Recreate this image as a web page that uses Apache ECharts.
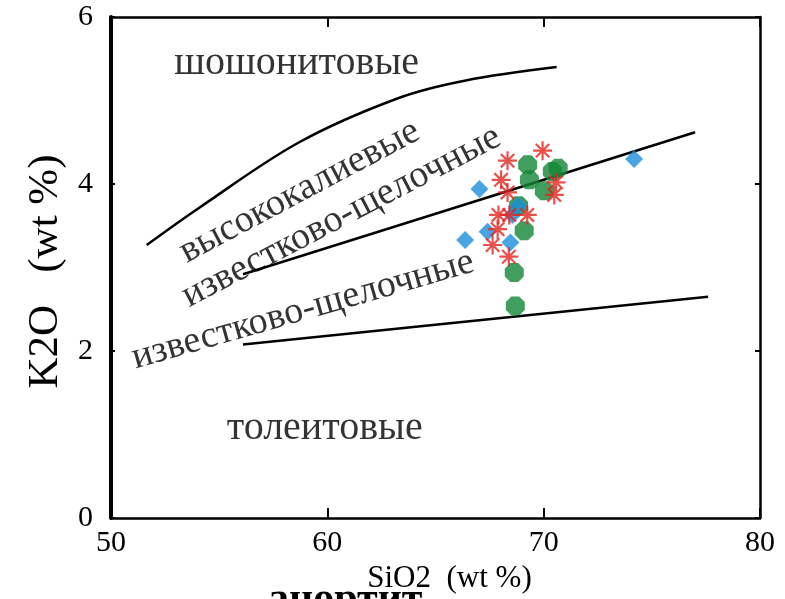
<!DOCTYPE html>
<html>
<head>
<meta charset="utf-8">
<script src="https://cdn.jsdelivr.net/npm/echarts@6/dist/echarts.min.js"></script>
<style>
  html, body { margin: 0; padding: 0; background: #fff; overflow: hidden; }
  #chart { width: 785px; height: 599px; }
</style>
</head>
<body>
<div id="chart"></div>
<script>
// K2O vs SiO2 classification diagram (wt %)

// Sample groups: [SiO2, K2O]
const blueSamples = [
  [67.03, 3.94], [66.37, 3.33], [67.41, 3.43], [68.46, 3.30],
  [68.83, 3.74], [68.55, 3.63], [74.18, 4.30]
];
const greenSamples = [
  [69.26, 4.23], [69.34, 4.05], [70.40, 4.15], [70.67, 4.19],
  [70.03, 3.92], [68.84, 3.74], [69.10, 3.44], [68.64, 2.94], [68.69, 2.54]
];
const redSamples = [
  [68.33, 4.28], [69.95, 4.40], [68.03, 4.05], [68.33, 3.90],
  [70.57, 4.02], [70.49, 3.87], [67.91, 3.63], [68.41, 3.63],
  [69.24, 3.63], [67.87, 3.46], [67.64, 3.27], [68.39, 3.13]
];

// Field boundaries
const shoshoniteBoundary = [
  [51.65, 3.27], [54.1, 3.72], [58.7, 4.50], [63.3, 5.03], [66.4, 5.24], [70.6, 5.40]
];
const highKBoundary = [[56.1, 2.92], [77.0, 4.62]];
const tholeiiteBoundary = [[56.1, 2.08], [77.6, 2.65]];

// Field names with anchor points [SiO2, K2O] and text angle
const fieldNames = ['шошонитовые', 'высококалиевые', 'известково-щелочные', 'известково-щелочные', 'толеитовые'];
const fieldAnchors = [[58.58, 5.44], [58.72, 3.91], [60.65, 3.61], [58.87, 2.49], [59.88, 1.07]];
const fieldAngles = [0, 28, 27.5, 16, 0];
const fieldFontSizes = [40, 38, 38, 38, 40];

// Axis ranges and ticks
const xRange = [50, 80];
const xStep = 10;
const yRange = [0, 6];
const yStep = 2;
const xTitle = 'SiO2  (wt %)';
const yTitle = 'K2O   (wt %)';
const footText = 'анортит';

const FONT = 'Liberation Serif';

const octagon = 'path://M-4.14,-10L4.14,-10L10,-4.14L10,4.14L4.14,10L-4.14,10L-10,4.14L-10,-4.14Z';
const asterisk = 'path://M0,-10L0,10M-10,0L10,0M-7.07,-7.07L7.07,7.07M-7.07,7.07L7.07,-7.07';

const chart = echarts.init(document.getElementById('chart'), null, { renderer: 'canvas' });

const boundaryStyle = { color: '#000', width: 2.5 };

const option = {
  backgroundColor: '#ffffff',
  animation: false,
  grid: { left: 111, right: 25, top: 17, bottom: 69, containLabel: false },
  xAxis: [
    {
      type: 'value', min: xRange[0], max: xRange[1], interval: xStep,
      position: 'bottom',
      name: xTitle, nameLocation: 'middle', nameGap: 17,
      nameTextStyle: { fontFamily: FONT, fontSize: 31, color: '#000', padding: [0, 0, 0, 28] },
      axisLine: { show: true, onZero: false, lineStyle: { color: '#000', width: 2.5 } },
      axisTick: { show: true, inside: true, length: 10, lineStyle: { color: '#000', width: 2 } },
      axisLabel: { fontFamily: FONT, fontSize: 30, color: '#000', margin: 10 },
      splitLine: { show: false }
    },
    {
      type: 'value', min: xRange[0], max: xRange[1], interval: xStep,
      position: 'top',
      axisLine: { show: true, onZero: false, lineStyle: { color: '#000', width: 2.5 } },
      axisTick: { show: true, inside: true, length: 10, lineStyle: { color: '#000', width: 2 } },
      axisLabel: { show: false },
      splitLine: { show: false }
    }
  ],
  yAxis: [
    {
      type: 'value', min: yRange[0], max: yRange[1], interval: yStep,
      position: 'left',
      name: yTitle, nameLocation: 'middle', nameGap: 44, nameRotate: 90,
      nameTextStyle: { fontFamily: FONT, fontSize: 43, color: '#000', padding: [0, 8, 0, 0] },
      axisLine: { show: true, onZero: false, lineStyle: { color: '#000', width: 4 } },
      axisTick: { show: true, inside: true, length: 4, lineStyle: { color: '#000', width: 2 } },
      axisLabel: { fontFamily: FONT, fontSize: 30, color: '#000', margin: 18 },
      splitLine: { show: false }
    },
    {
      type: 'value', min: yRange[0], max: yRange[1], interval: yStep,
      position: 'right',
      axisLine: { show: true, onZero: false, lineStyle: { color: '#000', width: 2.5 } },
      axisTick: { show: true, inside: true, length: 5, lineStyle: { color: '#000', width: 2 } },
      axisLabel: { show: false },
      splitLine: { show: false }
    }
  ],
  series: [
    {
      type: 'line', data: shoshoniteBoundary, smooth: 0.35, symbol: 'none',
      lineStyle: boundaryStyle, z: 2, silent: true
    },
    {
      type: 'line', data: highKBoundary, symbol: 'none',
      lineStyle: boundaryStyle, z: 2, silent: true
    },
    {
      type: 'line', data: tholeiiteBoundary, symbol: 'none',
      lineStyle: boundaryStyle, z: 2, silent: true
    },
    {
      type: 'scatter', symbolSize: 0, z: 3, silent: true,
      data: fieldAnchors.map((p, i) => ({
        value: p,
        label: {
          show: true, position: 'inside', formatter: fieldNames[i], rotate: fieldAngles[i],
          fontFamily: FONT, fontSize: fieldFontSizes[i], color: '#000'
        }
      }))
    },
    {
      type: 'scatter', data: greenSamples, symbol: octagon, symbolSize: 19, z: 4,
      itemStyle: { color: '#138636' }
    },
    {
      type: 'scatter', data: blueSamples, symbol: 'diamond', symbolSize: [18, 18], z: 5,
      itemStyle: { color: '#1b8fdb' }
    },
    {
      type: 'scatter', data: redSamples, symbol: asterisk, symbolSize: 19, z: 6,
      itemStyle: { color: 'rgba(0,0,0,0)', borderColor: '#e3241f', borderWidth: 2.2 }
    }
  ],
  graphic: [
    {
      type: 'text', left: 268, top: 579, z: 10,
      style: { text: footText, fontFamily: FONT, fontSize: 42, fontWeight: 'bold', fill: '#000' }
    }
  ]
};

chart.setOption(option);
</script>
</body>
</html>
